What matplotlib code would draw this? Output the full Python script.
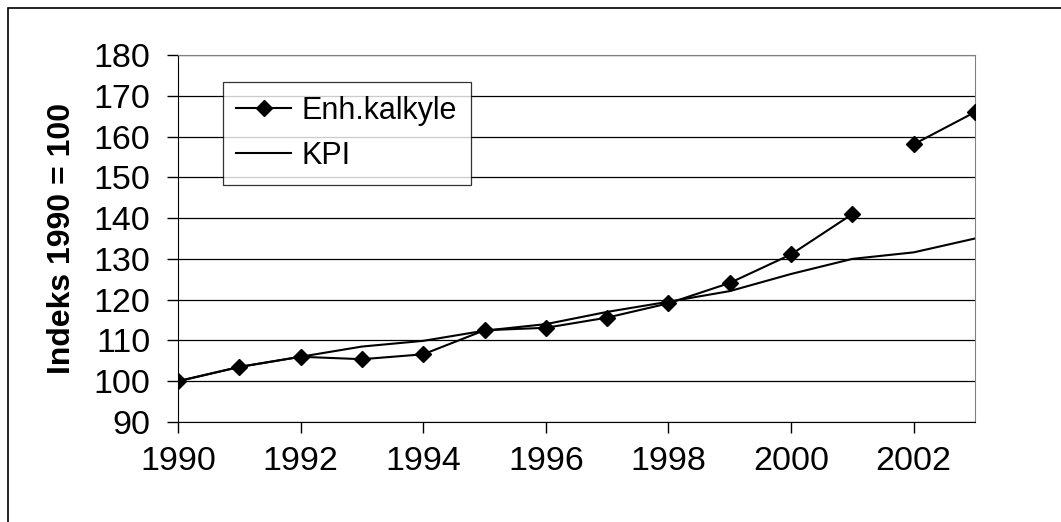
import numpy as np
import matplotlib.pyplot as plt
from matplotlib.patches import Rectangle

plt.rcParams['font.family'] = ['Liberation Sans', 'DejaVu Sans']

years = [1990, 1991, 1992, 1993, 1994, 1995, 1996, 1997, 1998, 1999, 2000, 2001, 2002, 2003]
enh_kalkyle = [100, 103.5, 106, 105.4, 106.6, 112.5, 113.1, 115.6, 119.1, 124.1, 131.1, 141.0, 158.1, 166.0]
kpi = [100, 103.5, 106, 108.5, 109.9, 112.4, 114.0, 117.0, 119.5, 122.1, 126.3, 130.0, 131.6, 135.0]
break_after = 2001  # Enh.kalkyle line is not joined between 2001 and 2002

y_ticks = list(range(90, 181, 10))
x_ticks = [1990, 1992, 1994, 1996, 1998, 2000, 2002]

fs = 24.5

fig = plt.figure(figsize=(10.61, 5.22), dpi=100)
ax = fig.add_axes([178/1061, 1-422/522, (975-178)/1061, (422-55)/522])

# outer frame (runs off the right and bottom edges)
fig.patches.append(Rectangle((8/1061, -0.1), 1.2, 1-8/522+0.1, transform=fig.transFigure,
                             fill=False, edgecolor='black', linewidth=1.2))

yrs = np.array(years)
enh = np.array(enh_kalkyle)
first = yrs <= break_after
ax.plot(yrs[first], enh[first], color='black', lw=1.5, marker='D', ms=8, label='Enh.kalkyle', zorder=3)
ax.plot(yrs[~first], enh[~first], color='black', lw=1.5, marker='D', ms=8, zorder=3)
ax.plot(years, kpi, color='black', lw=1.5, label='KPI', zorder=3)

ax.set_xlim(1990, 2003)
ax.set_ylim(90, 180)
ax.set_xticks(x_ticks)
ax.set_yticks(y_ticks)
ax.yaxis.grid(True, color='black', lw=0.9)
ax.set_axisbelow(True)
ax.tick_params(direction='out', length=8, width=1, labelsize=fs, colors='black')
ax.tick_params(axis='x', pad=9)
ax.tick_params(axis='y', pad=12)
for s in ['top', 'right']:
    ax.spines[s].set_color('#808080')
for s in ['left', 'bottom']:
    ax.spines[s].set_color('black')
ax.set_ylabel('Indeks 1990 = 100', fontsize=23, fontweight='bold', labelpad=12)

leg = ax.legend(loc='upper left', bbox_to_anchor=(0.056, 0.927), borderaxespad=0,
                fontsize=22, frameon=True, fancybox=False, edgecolor='black',
                handlelength=1.8, handletextpad=0.33, borderpad=0.45, labelspacing=0.5)
leg.get_frame().set_linewidth(0.9)

fig.savefig('out.png', dpi=100)
